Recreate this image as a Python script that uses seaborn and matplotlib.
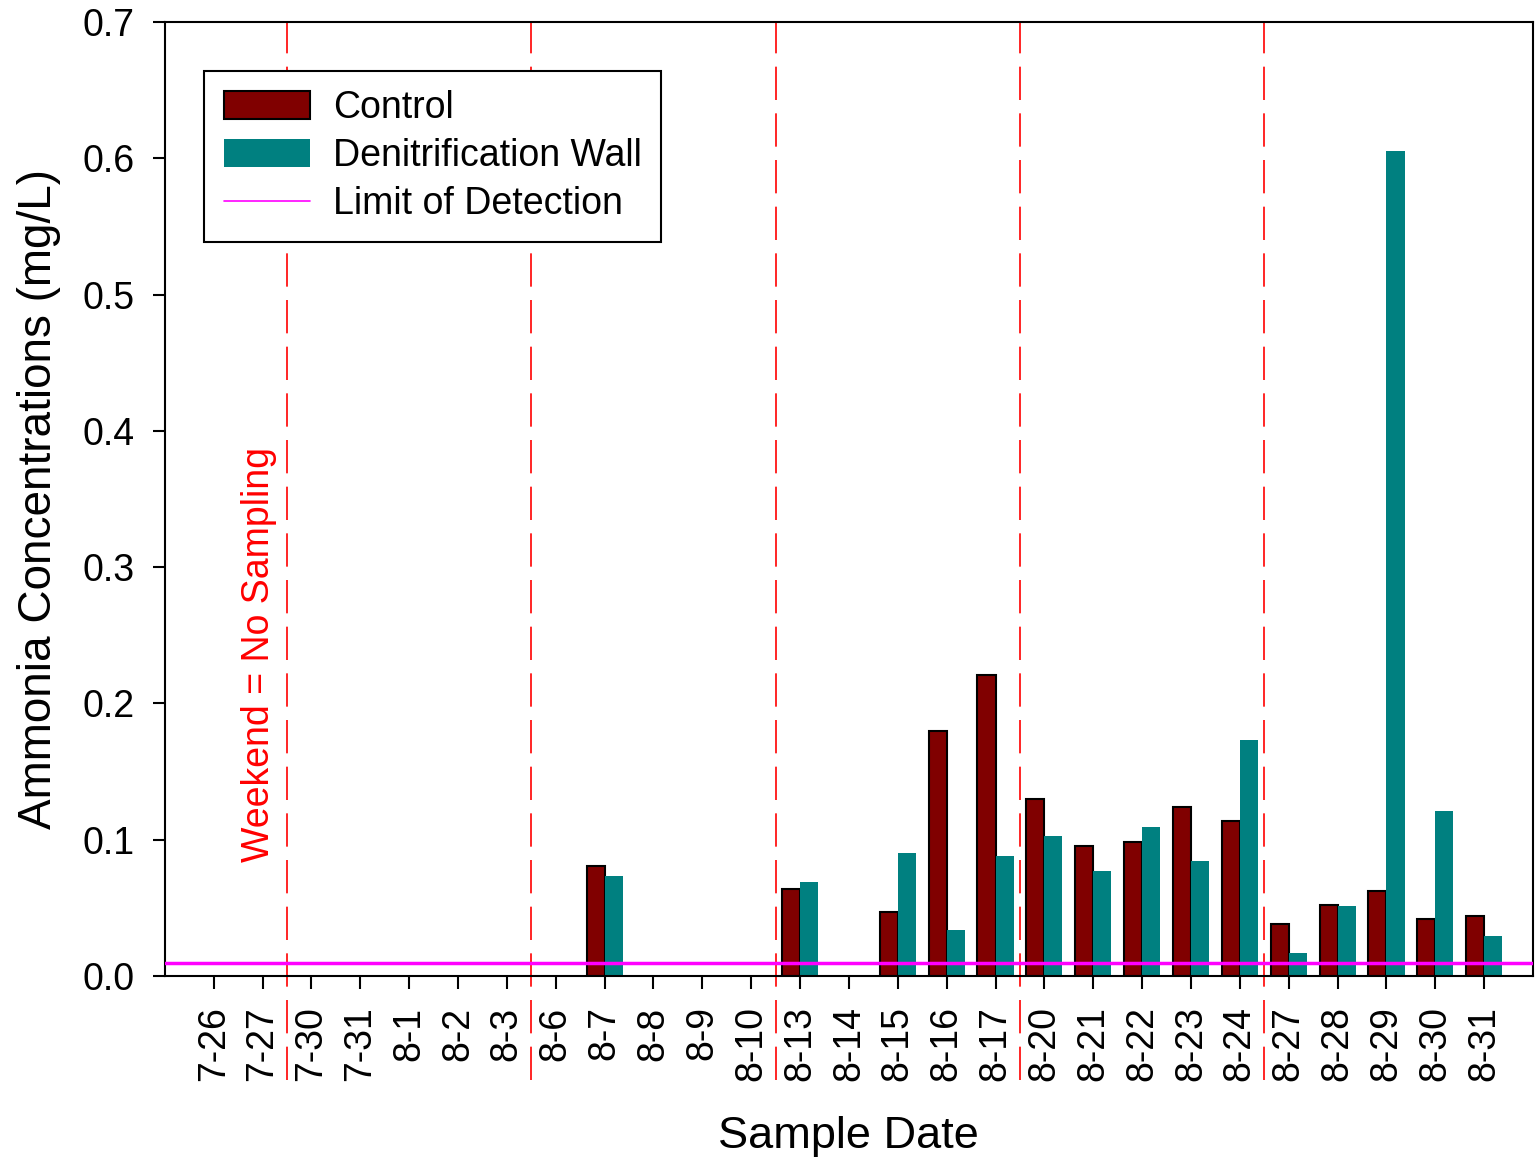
import numpy as np
import pandas as pd
import matplotlib
matplotlib.use("Agg")
import matplotlib.pyplot as plt
import seaborn as sns
from matplotlib.patches import Patch
from matplotlib.lines import Line2D

dates = ["7-26", "7-27", "7-30", "7-31", "8-1", "8-2", "8-3", "8-6", "8-7", "8-8",
         "8-9", "8-10", "8-13", "8-14", "8-15", "8-16", "8-17", "8-20", "8-21", "8-22",
         "8-23", "8-24", "8-27", "8-28", "8-29", "8-30", "8-31"]
nan = np.nan
control = [nan, nan, nan, nan, nan, nan, nan, nan, 0.081, nan,
           nan, nan, 0.064, nan, 0.047, 0.180, 0.221, 0.130, 0.095, 0.098,
           0.124, 0.114, 0.038, 0.052, 0.062, 0.042, 0.044]
wall = [nan, nan, nan, nan, nan, nan, nan, nan, 0.073, nan,
        nan, nan, 0.069, nan, 0.090, 0.034, 0.088, 0.103, 0.077, 0.109,
        0.084, 0.173, 0.017, 0.051, 0.605, 0.121, 0.029]
limit_of_detection = 0.0095
weekend_breaks = [1.5, 6.5, 11.5, 16.5, 21.5]

sns.set_style("ticks")
plt.rcParams['font.family'] = ['Liberation Sans', 'DejaVu Sans']
plt.rcParams.update({"text.color": "black", "axes.labelcolor": "black",
                     "xtick.color": "black", "ytick.color": "black"})

df = pd.DataFrame({
    "date": dates * 2,
    "value": control + wall,
    "group": ["Control"] * len(dates) + ["Denitrification Wall"] * len(dates),
})
colors = {"Control": "#800000", "Denitrification Wall": "#008080"}

fig = plt.figure(figsize=(15.4, 11.59), dpi=100)
ax = fig.add_axes([0.107, 0.158, 0.8885, 0.823])

sns.barplot(data=df, x="date", y="value", hue="group", order=dates,
            hue_order=list(colors), palette=colors, width=0.74,
            errorbar=None, saturation=1, legend=False, ax=ax, zorder=2)

# control bars get a black outline, wall bars none
for cont, edge in zip(ax.containers, ["black", "none"]):
    for bar in cont:
        bar.set_edgecolor(edge)
        bar.set_linewidth(1.5)

ax.axhline(limit_of_detection, color="magenta", lw=2.5, zorder=3)

for xb in weekend_breaks:
    ax.axvline(xb, ymin=-0.109, ymax=1, color="red", lw=1.2,
               dashes=(20, 8), clip_on=False, zorder=1)

ax.text(0.93, 0.236, "Weekend = No Sampling", rotation=90, color="red",
        fontsize=27, ha="center", va="center")

ax.set_xlim(-1, 27)
ax.set_ylim(0, 0.7)
ax.set_yticks(np.arange(0, 0.71, 0.1))
ax.set_yticklabels([f"{v:.1f}" for v in np.arange(0, 0.71, 0.1)])
ax.tick_params(axis="y", labelsize=27, length=9, width=1.5, pad=13)
ax.tick_params(axis="x", labelsize=27, length=9, width=1.5, pad=13, labelrotation=90)

for sp in ax.spines.values():
    sp.set_linewidth(1.5)
    sp.set_color("black")

ax.set_xlabel("Sample Date", fontsize=32.5, labelpad=25)
ax.set_ylabel("Ammonia Concentrations (mg/L)", fontsize=33, labelpad=15)

handles = [Patch(facecolor="#800000", edgecolor="black", linewidth=1.5),
           Patch(facecolor="#008080", edgecolor="none"),
           Line2D([0], [0], color="magenta", lw=1.2)]
leg = ax.legend(handles, ["Control", "Denitrification Wall", "Limit of Detection"],
                loc="upper left", bbox_to_anchor=(0.029, 0.949), borderaxespad=0,
                fontsize=27, frameon=True, fancybox=False, framealpha=1,
                handlelength=2.3, handleheight=0.75, labelspacing=0.32,
                handletextpad=0.6, borderpad=0.52)
leg.get_frame().set_edgecolor("black")
leg.get_frame().set_linewidth(1.5)
leg.set_zorder(5)

fig.savefig("out.png", dpi=100)
